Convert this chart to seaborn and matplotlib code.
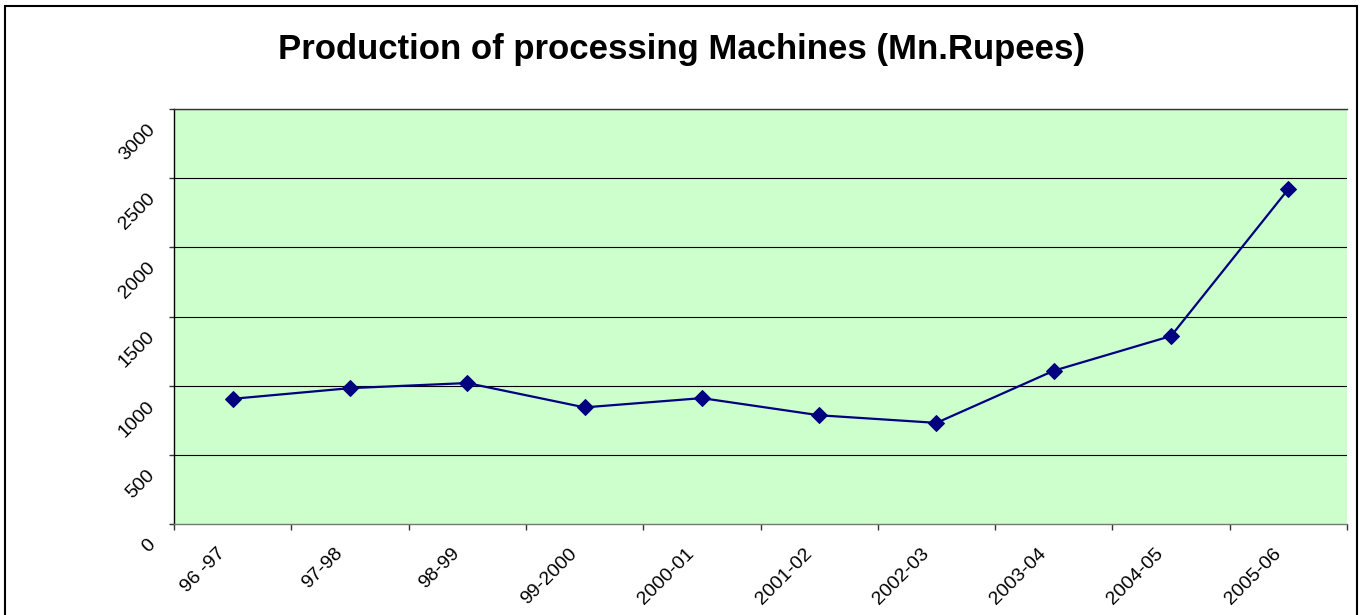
import numpy as np
import pandas as pd
import matplotlib
matplotlib.use("Agg")
import matplotlib.pyplot as plt
import matplotlib.transforms as mtransforms
from matplotlib.patches import Rectangle
import seaborn as sns

years = ['96 -97', '97-98', '98-99', '99-2000', '2000-01',
         '2001-02', '2002-03', '2003-04', '2004-05', '2005-06']
production = [905, 982, 1019, 843, 910, 786, 731, 1108, 1359, 2421]
y_ticks = [0, 500, 1000, 1500, 2000, 2500, 3000]

df = pd.DataFrame({'year': years, 'production': production})

sns.set_style("white")
plt.rcParams['font.family'] = ['Liberation Sans', 'DejaVu Sans']
plt.rcParams['text.color'] = 'black'
plt.rcParams['xtick.color'] = 'black'
plt.rcParams['ytick.color'] = 'black'

fig = plt.figure(figsize=(13.6, 6.15), dpi=100)
ax = fig.add_axes([174/1360, 1 - 524/615, (1347 - 174)/1360, (524 - 109)/615])
ax.set_facecolor('#CCFFCC')

sns.lineplot(data=df, x='year', y='production', sort=False, ax=ax,
             color='#000080', linewidth=1.6, marker='D', markersize=8,
             markeredgecolor='#000080', markerfacecolor='#000080', zorder=3)

ax.set_xlim(-0.5, len(years) - 0.5)
ax.set_ylim(0, 3000)
ax.set_yticks(y_ticks)
ax.set_yticklabels([str(v) for v in y_ticks])
ax.set_xticks(range(len(years)))
ax.set_xticklabels(years)
ax.set_xticks(np.arange(-0.5, len(years), 1), minor=True)
ax.set_xlabel('')
ax.set_ylabel('')

# grid lines
for v in y_ticks[1:]:
    ax.axhline(v, color='black', linewidth=0.8, zorder=1)

ax.spines['right'].set_visible(False)
ax.spines['top'].set_color('#333333')
ax.spines['left'].set_color('black')
ax.spines['bottom'].set_color('#777777')
for s in ['top', 'left', 'bottom']:
    ax.spines[s].set_linewidth(1.0)

ax.tick_params(axis='x', which='major', length=0, pad=15, labelsize=14, labelcolor='black')
ax.tick_params(axis='x', which='minor', length=4.5, width=1, color='#333333', direction='out', bottom=True)
ax.tick_params(axis='y', which='major', length=3.6, width=1, color='#333333', direction='out', left=True,
               pad=12, labelsize=14, labelcolor='black')

for lab in ax.get_xticklabels():
    lab.set_rotation(45)
    lab.set_ha('right')
    lab.set_va('top')
    lab.set_rotation_mode('anchor')
    lab.set_transform(lab.get_transform() + mtransforms.ScaledTranslation(-16/100, 0, fig.dpi_scale_trans))

for lab in ax.get_yticklabels():
    lab.set_rotation(45)
    lab.set_ha('right')
    lab.set_va('center')
    lab.set_rotation_mode('anchor')
    lab.set_transform(lab.get_transform() + mtransforms.ScaledTranslation(0, -18/100, fig.dpi_scale_trans))

fig.text(682/1360, 1 - 50/615, 'Production of processing Machines (Mn.Rupees)',
         ha='center', va='center', fontsize=25, fontweight='bold', color='black')

# outer chart frame
fig.patches.append(Rectangle((5/1360, -0.05), (1357 - 5)/1360, 1.05 - 6.5/615,
                             transform=fig.transFigure, fill=False,
                             edgecolor='black', linewidth=1.5, clip_on=False))

fig.savefig('out.png', dpi=100)
